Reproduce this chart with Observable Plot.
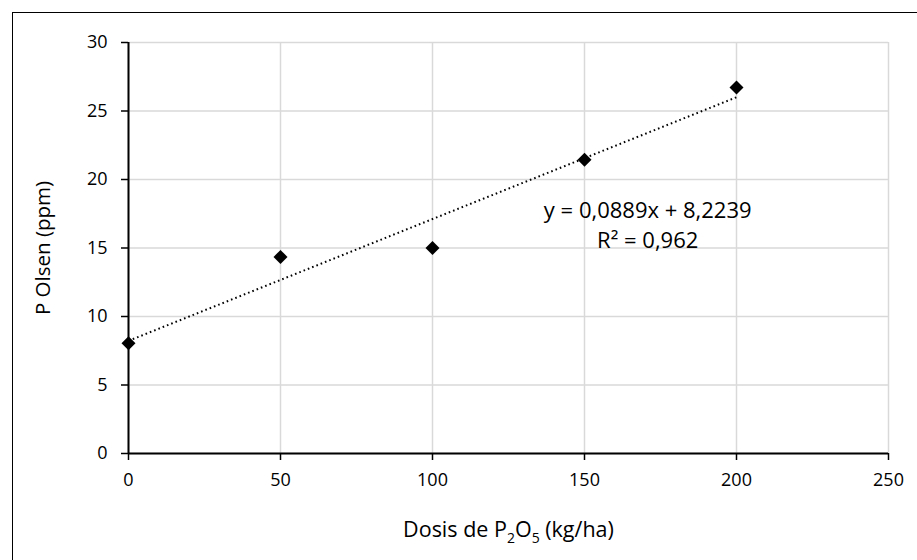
<!DOCTYPE html>
<html>
<head>
<meta charset="utf-8">
<script src="https://cdn.jsdelivr.net/npm/d3@7"></script>
<script src="https://cdn.jsdelivr.net/npm/@observablehq/plot@0.6"></script>
<style>
  body { margin: 0; background: #fff; }
  #wrap { position: relative; width: 917px; height: 560px; overflow: hidden; }
  #border { position: absolute; left: 12px; top: 12px; width: 1000px; height: 1000px;
            border: 1.5px solid #000; box-sizing: border-box; }
  #chart { position: absolute; left: 0; top: 0; }
</style>
</head>
<body>
<div id="wrap"><div id="border"></div><div id="chart"></div></div>
<script>
// Phosphorus dose vs. Olsen P
const dosis = [0, 50, 100, 150, 200];            // kg P2O5 / ha
const pOlsen = [8.05, 14.35, 15.0, 21.45, 26.72]; // ppm
const xTicks = [0, 50, 100, 150, 200, 250];
const yTicks = [0, 5, 10, 15, 20, 25, 30];

// Linear trend (as reported on the chart)
const slope = 0.0889;
const intercept = 8.2239;
const rSquared = 0.962;
const trendRange = [0, 200];

const yLabel = "P Olsen (ppm)";
const xLabel = "Dosis de P2O5 (kg/ha)";

const comma = v => String(v).replace(".", ",");
const eqText = `y = ${comma(slope)}x + ${comma(intercept)}\nR² = ${comma(rSquared)}`;

const points = dosis.map((d, i) => ({dosis: d, p: pOlsen[i]}));
const trend = trendRange.map(x => ({dosis: x, p: intercept + slope * x}));

const font = "'Open Sans', sans-serif";

const chart = Plot.plot({
  width: 917,
  height: 560,
  marginLeft: 128,
  marginRight: 29,
  marginTop: 42,
  marginBottom: 107,
  style: {fontFamily: font, fontSize: "18px", color: "#000", background: "transparent", overflow: "visible"},
  x: {domain: [0, 250]},
  y: {domain: [0, 30]},
  marks: [
    Plot.gridX(xTicks, {stroke: "#d9d9d9", strokeOpacity: 1, strokeWidth: 1.5}),
    Plot.gridY(yTicks, {stroke: "#d9d9d9", strokeOpacity: 1, strokeWidth: 1.5}),
    Plot.axisX(xTicks, {tickSize: 7, tickPadding: 13, stroke: "#000", strokeWidth: 1.5, label: null, fontSize: 18, tickFormat: d => d}),
    Plot.axisY(yTicks, {tickSize: 7, tickPadding: 14, stroke: "#000", strokeWidth: 1.5, label: null, fontSize: 18, tickFormat: d => d}),
    Plot.ruleX([0], {stroke: "#000", strokeWidth: 2}),
    Plot.ruleY([0], {stroke: "#000", strokeWidth: 2}),
    Plot.line(trend, {x: "dosis", y: "p", stroke: "#000", strokeWidth: 2, strokeDasharray: "1.6,3", strokeLinecap: "butt"}),
    Plot.dot(points, {x: "dosis", y: "p", symbol: "diamond2", fill: "#000", stroke: "none", r: 6.3}),
    Plot.text([eqText], {x: 170.8, y: 16.8, fontSize: 22, lineHeight: 1.36, textAnchor: "middle", fill: "#000"}),
    Plot.text([yLabel], {frameAnchor: "left", rotate: -90, dx: -85, fontSize: 20.5, fill: "#000", textAnchor: "middle"}),
    Plot.text([xLabel], {frameAnchor: "bottom", dy: 83, fontSize: 21.5, fill: "#000", textAnchor: "middle", className: "x-title"})
  ]
});

// Subscripts in the x-axis title (P₂O₅)
d3.select(chart).selectAll(".x-title text").each(function () {
  const t = d3.select(this);
  t.text(null);
  t.append("tspan").text("Dosis de P");
  t.append("tspan").attr("dy", 6).attr("font-size", 14).text("2");
  t.append("tspan").attr("dy", -6).text("O");
  t.append("tspan").attr("dy", 6).attr("font-size", 14).text("5");
  t.append("tspan").attr("dy", -6).text(" (kg/ha)");
});

document.getElementById("chart").append(chart);
</script>
</body>
</html>
